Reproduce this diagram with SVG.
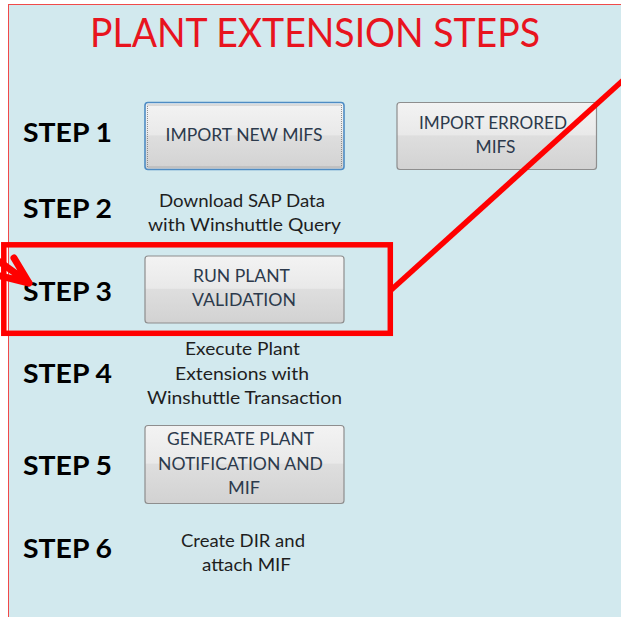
<svg xmlns="http://www.w3.org/2000/svg" width="621" height="617" viewBox="0 0 621 617">
<defs>
<linearGradient id="btn" x1="0" y1="0" x2="0" y2="1">
<stop offset="0" stop-color="#f3f3f3"/>
<stop offset="0.48" stop-color="#e9e9e9"/>
<stop offset="0.5" stop-color="#dedede"/>
<stop offset="1" stop-color="#d2d2d2"/>
</linearGradient>
<style>
.btn{fill:url(#btn);stroke:#8e8e8e;stroke-width:1.2}
.btxt{font-family:Lato,"Liberation Sans",sans-serif;font-size:17px;fill:#2c3a4c;text-anchor:middle}
.desc{font-family:Lato,"Liberation Sans",sans-serif;font-size:17px;fill:#1e1e1e;text-anchor:middle}
.step{font-family:Lato,"Liberation Sans",sans-serif;font-size:27px;font-weight:bold;fill:#000}
.red{fill:none;stroke:#ff0000;stroke-width:5.5}
</style>
</defs>
<rect x="0" y="0" width="621" height="617" fill="#ffffff"/>
<rect x="8.5" y="4.5" width="630" height="630" fill="#d2e9ee" stroke="#f04a4a" stroke-width="1"/>
<text x="315" y="47" font-family="Lato,'Liberation Sans',sans-serif" font-size="40" fill="#e8141e" text-anchor="middle" textLength="450" lengthAdjust="spacingAndGlyphs">PLANT EXTENSION STEPS</text>
<g id="steps">
<text class="step" x="23" y="142" textLength="89" lengthAdjust="spacingAndGlyphs">STEP 1</text>
<text class="step" x="23" y="218" textLength="89" lengthAdjust="spacingAndGlyphs">STEP 2</text>
<text class="step" x="23" y="301" textLength="89" lengthAdjust="spacingAndGlyphs">STEP 3</text>
<text class="step" x="23" y="383" textLength="89" lengthAdjust="spacingAndGlyphs">STEP 4</text>
<text class="step" x="23" y="475" textLength="89" lengthAdjust="spacingAndGlyphs">STEP 5</text>
<text class="step" x="23" y="558" textLength="89" lengthAdjust="spacingAndGlyphs">STEP 6</text>
</g>
<g id="import-new">
<rect x="145" y="102.5" width="199" height="67" rx="3" fill="url(#btn)" stroke="#4e8cc4" stroke-width="1.6"/>
<rect x="147.5" y="105" width="194" height="62" fill="none" stroke="#7a7a7a" stroke-width="0.8" stroke-dasharray="1,1"/>
<text class="btxt" x="244" y="141" textLength="157" lengthAdjust="spacingAndGlyphs">IMPORT NEW MIFS</text>
</g>
<g id="import-errored">
<rect class="btn" x="397" y="102.5" width="199.5" height="67" rx="3"/>
<text class="btxt" x="493" y="128.5" textLength="148" lengthAdjust="spacingAndGlyphs">IMPORT ERRORED</text>
<text class="btxt" x="495.5" y="153" textLength="40" lengthAdjust="spacingAndGlyphs">MIFS</text>
</g>
<g id="download">
<text class="desc" x="242" y="206.5" textLength="166" lengthAdjust="spacingAndGlyphs">Download SAP Data</text>
<text class="desc" x="244.5" y="231" textLength="193" lengthAdjust="spacingAndGlyphs">with Winshuttle Query</text>
</g>
<g id="run-validation">
<rect class="btn" x="145" y="256" width="199" height="67" rx="3"/>
<text class="btxt" x="241.5" y="282" textLength="97" lengthAdjust="spacingAndGlyphs">RUN PLANT</text>
<text class="btxt" x="244" y="306" textLength="104" lengthAdjust="spacingAndGlyphs">VALIDATION</text>
</g>
<g id="execute">
<text class="desc" x="242.5" y="355" textLength="115" lengthAdjust="spacingAndGlyphs">Execute Plant</text>
<text class="desc" x="242" y="380" textLength="134" lengthAdjust="spacingAndGlyphs">Extensions with</text>
<text class="desc" x="244.5" y="404" textLength="195" lengthAdjust="spacingAndGlyphs">Winshuttle Transaction</text>
</g>
<g id="generate">
<rect class="btn" x="145" y="425.5" width="199" height="78" rx="3"/>
<text class="btxt" x="240.5" y="445" textLength="147" lengthAdjust="spacingAndGlyphs">GENERATE PLANT</text>
<text class="btxt" x="240.5" y="470" textLength="165" lengthAdjust="spacingAndGlyphs">NOTIFICATION AND</text>
<text class="btxt" x="244" y="494" textLength="32" lengthAdjust="spacingAndGlyphs">MIF</text>
</g>
<g id="create-dir">
<text class="desc" x="243" y="547" textLength="124" lengthAdjust="spacingAndGlyphs">Create DIR and</text>
<text class="desc" x="246.5" y="571" textLength="89" lengthAdjust="spacingAndGlyphs">attach MIF</text>
</g>
<g id="connectors">
<rect class="red" x="3.8" y="244.8" width="386.5" height="88.5"/>
<line class="red" x1="630" y1="74" x2="390" y2="291" stroke-width="6"/>
<path d="M0 262 L29 283 M14 258 L29 283 M0 276 L29 283" fill="none" stroke="#ff0000" stroke-width="7" stroke-linecap="round" stroke-linejoin="round"/>
</g>
</svg>
